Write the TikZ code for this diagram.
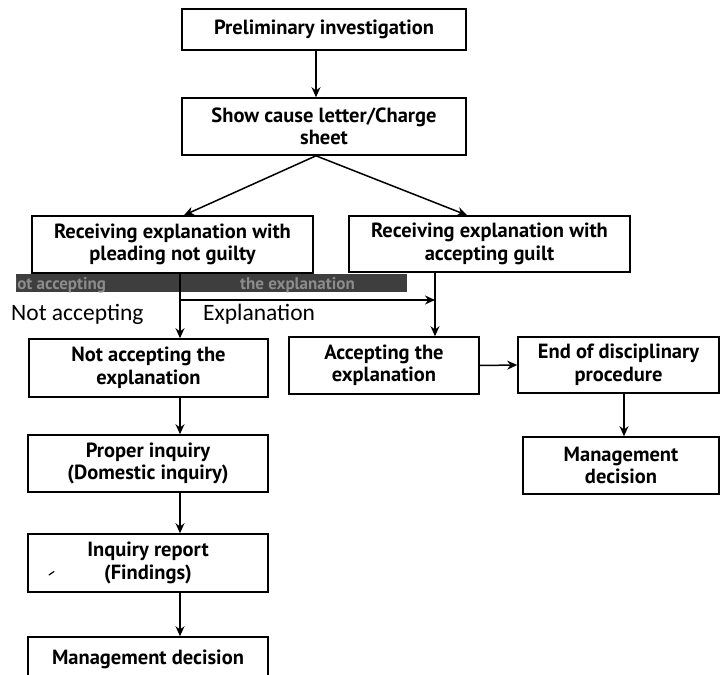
\documentclass[tikz,border=0pt]{standalone}
\usepackage{fontspec}
\setmainfont{PT Sans}
\newfontfamily\labelfont{Carlito}
\usetikzlibrary{arrows.meta}
\definecolor{bandgray}{HTML}{3E3E3E}
\definecolor{bandtext}{HTML}{8C8C8C}
\begin{document}
\begin{tikzpicture}[x=1pt,y=-1pt,
  box/.style={draw=black, line width=1.6pt, fill=white, align=center, inner sep=0pt,
    font=\bfseries\fontsize{20.5}{22.5}\selectfont},
  link/.style={draw=black, line width=1.5pt, -{Stealth[length=10pt,width=9pt]}},
  tag/.style={font=\labelfont\fontsize{23.5}{28}\selectfont, inner sep=0pt, anchor=base west},
  bandlabel/.style={font=\bfseries\fontsize{17}{18}\selectfont, text=bandtext, inner sep=0pt, anchor=base west}
]
\useasboundingbox (0,0) rectangle (722,674);
\clip (0,0) rectangle (722,674);
\fill[white] (0,0) rectangle (722,674);

% column guides for the vertical connectors
\coordinate (lc) at (180,0);
\coordinate (rc) at (435,0);
\coordinate (mc) at (624,0);

% boxes
\node[box, minimum width=284pt, minimum height=41pt] (b1) at (324,29.5) {Preliminary investigation};
\node[box, minimum width=284pt, minimum height=57pt] (b2) at (324,126.5) {Show cause letter/Charge\\sheet};
\node[box, minimum width=281pt, minimum height=57pt] (b3) at (172.5,244.5) {Receiving explanation with\\pleading not guilty};
\node[box, minimum width=281pt, minimum height=56pt] (b4) at (489.5,244) {Receiving explanation with\\accepting guilt};
\node[box, minimum width=239pt, minimum height=58pt] (b5) at (148.5,368) {Not accepting the\\explanation};
\node[box, minimum width=190pt, minimum height=57pt] (b6) at (384,365.5) {Accepting the\\explanation};
\node[box, minimum width=201pt, minimum height=56pt] (b7) at (618.5,365) {End of disciplinary\\procedure};
\node[box, minimum width=240pt, minimum height=57pt] (b8) at (148,463.5) {Proper inquiry\\(Domestic inquiry)};
\node[box, minimum width=196pt, minimum height=57pt] (b9) at (621,465.5) {Management\\decision};
\node[box, minimum width=240pt, minimum height=58pt] (b10) at (148,563) {Inquiry report\\(Findings)};
\node[box, minimum width=240pt, minimum height=44pt] (b11) at (148,659) {Management decision};

% dark strip under the left branch
\fill[bandgray] (16,274) rectangle (407,292);
\begin{scope}
  \clip (16,274) rectangle (407,292);
  \node[bandlabel] (bl1) at (6,289) {Not accepting};
  \node[bandlabel] (bl2) at (240,289) {the explanation};
\end{scope}

% connectors
\draw[link] ([xshift=-8pt]b1.south) -- ([xshift=-8pt]b2.north);
\draw[link] ([xshift=-8pt]b2.south) -- ([xshift=11.5pt]b3.north);
\draw[link] ([xshift=-8pt]b2.south) -- ([xshift=-22.5pt]b4.north);
\draw[link] (b3.south -| lc) -- (b5.north -| lc);
\coordinate (split) at (180,300);
\draw[link] (split) -- (split -| rc);
\draw[link] (b4.south -| rc) -- (b6.north -| rc);
\draw[link] (b6.east) -- (b7.west);
\draw[link] (b5.south -| lc) -- (b8.north -| lc);
\draw[link] (b8.south -| lc) -- (b10.north -| lc);
\draw[link] (b10.south -| lc) -- (b11.north -| lc);
\draw[link] (b7.south -| mc) -- (b9.north -| mc);

% branch labels
\node[tag] (na) at (11,320) {Not accepting};
\node[tag] (ex) at (203,320) {Explanation};

% small pen mark inside the report box
\draw[line width=1.2pt, line cap=round] (49,575) -- (54,571.5);
\end{tikzpicture}
\end{document}
